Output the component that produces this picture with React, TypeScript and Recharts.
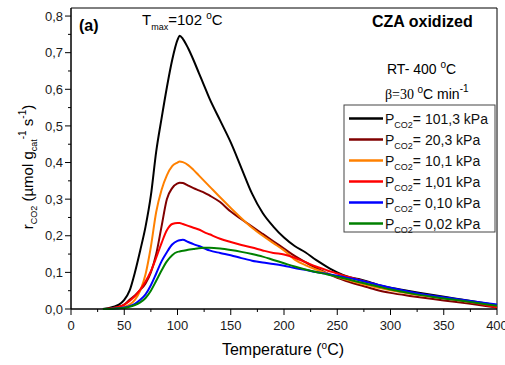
import React from 'react';
import { LineChart, Line, XAxis, YAxis, ReferenceArea } from 'recharts';

const TEMPS = [30, 35, 40, 45, 50, 55, 60, 65, 70, 75, 80, 85, 90, 95, 100, 102, 105, 110, 115, 120, 125, 130, 140, 150, 160, 170, 180, 190, 200, 210, 220, 230, 240, 250, 260, 270, 280, 290, 300, 320, 340, 360, 380, 400];

const P_101_3 = [0, 0.002, 0.006, 0.012, 0.025, 0.05, 0.1, 0.16, 0.225, 0.31, 0.43, 0.52, 0.605, 0.68, 0.735, 0.746, 0.738, 0.712, 0.68, 0.645, 0.61, 0.575, 0.515, 0.455, 0.385, 0.315, 0.262, 0.225, 0.195, 0.172, 0.155, 0.134, 0.116, 0.1, 0.088, 0.082, 0.074, 0.064, 0.058, 0.048, 0.038, 0.029, 0.02, 0.01];
const P_20_3 = [0, 0.001, 0.003, 0.006, 0.012, 0.025, 0.037, 0.052, 0.07, 0.1, 0.15, 0.225, 0.3, 0.33, 0.343, 0.345, 0.344, 0.337, 0.33, 0.324, 0.318, 0.31, 0.292, 0.266, 0.245, 0.225, 0.205, 0.185, 0.165, 0.145, 0.128, 0.112, 0.098, 0.085, 0.075, 0.066, 0.058, 0.05, 0.044, 0.035, 0.027, 0.02, 0.012, 0.004];
const P_10_1 = [0, 0, 0.001, 0.003, 0.006, 0.012, 0.025, 0.05, 0.095, 0.17, 0.265, 0.325, 0.365, 0.39, 0.4, 0.403, 0.401, 0.393, 0.38, 0.365, 0.35, 0.335, 0.305, 0.276, 0.248, 0.222, 0.2, 0.18, 0.16, 0.135, 0.12, 0.108, 0.098, 0.088, 0.079, 0.071, 0.064, 0.057, 0.051, 0.041, 0.033, 0.025, 0.017, 0.009];
const P_1_01 = [0, 0.001, 0.003, 0.006, 0.012, 0.022, 0.035, 0.053, 0.075, 0.103, 0.14, 0.18, 0.215, 0.232, 0.235, 0.235, 0.232, 0.227, 0.222, 0.217, 0.21, 0.204, 0.192, 0.183, 0.175, 0.168, 0.16, 0.153, 0.149, 0.14, 0.128, 0.116, 0.106, 0.097, 0.088, 0.08, 0.072, 0.064, 0.056, 0.044, 0.035, 0.026, 0.016, 0.004];
const P_0_10 = [0, 0, 0.001, 0.002, 0.004, 0.008, 0.014, 0.025, 0.04, 0.065, 0.097, 0.13, 0.155, 0.176, 0.186, 0.188, 0.189, 0.183, 0.177, 0.172, 0.166, 0.16, 0.153, 0.147, 0.139, 0.132, 0.127, 0.123, 0.118, 0.112, 0.107, 0.101, 0.096, 0.091, 0.085, 0.079, 0.072, 0.065, 0.058, 0.046, 0.036, 0.028, 0.02, 0.012];
const P_0_02 = [0, 0, 0.001, 0.002, 0.003, 0.006, 0.011, 0.018, 0.03, 0.05, 0.077, 0.105, 0.13, 0.147, 0.156, 0.157, 0.159, 0.162, 0.164, 0.166, 0.167, 0.167, 0.165, 0.161, 0.156, 0.15, 0.143, 0.134, 0.125, 0.116, 0.108, 0.101, 0.095, 0.088, 0.081, 0.074, 0.067, 0.06, 0.053, 0.042, 0.033, 0.025, 0.017, 0.009];

const X_TICKS = [0, 25, 50, 75, 100, 125, 150, 175, 200, 225, 250, 275, 300, 325, 350, 375, 400];
const Y_TICKS = [0, 0.05, 0.1, 0.15, 0.2, 0.25, 0.3, 0.35, 0.4, 0.45, 0.5, 0.55, 0.6, 0.65, 0.7, 0.75, 0.8];

const SERIES = [
  { key: 'p1013', label: '101,3', color: '#000000', values: P_101_3 },
  { key: 'p203', label: '20,3', color: '#800000', values: P_20_3 },
  { key: 'p101', label: '10,1', color: '#ff8000', values: P_10_1 },
  { key: 'p101b', label: '1,01', color: '#ff0000', values: P_1_01 },
  { key: 'p010', label: '0,10', color: '#0000ff', values: P_0_10 },
  { key: 'p002', label: '0,02', color: '#008000', values: P_0_02 },
];

const data = TEMPS.map((t, i) => {
  const row: Record<string, number> = { t };
  SERIES.forEach((s) => (row[s.key] = s.values[i]));
  return row;
});

const FONT = '"Liberation Sans", Arial, sans-serif';

function YTick(props: any) {
  const { x, y, payload } = props;
  const v = payload.value;
  const major = Math.abs(v * 10 - Math.round(v * 10)) < 1e-6;
  const ax = x + 8;
  return (
    <g>
      <line x1={ax} x2={ax - (major ? 6 : 3)} y1={y} y2={y} stroke="#000" />
      {major && (
        <text x={x} y={y} dy="0.36em" textAnchor="end" fontSize={13} fontFamily={FONT} fill="#1a1a1a">
          {v.toFixed(1).replace('.', ',')}
        </text>
      )}
    </g>
  );
}

function XTick(props: any) {
  const { x, y, payload } = props;
  const v = payload.value;
  const major = v % 50 === 0;
  const ay = y - 12;
  return (
    <g>
      <line x1={x} x2={x} y1={ay} y2={ay + (major ? 6 : 3)} stroke="#000" />
      {major && (
        <text x={x} y={y + 9} textAnchor="middle" fontSize={13} fontFamily={FONT} fill="#1a1a1a">
          {v}
        </text>
      )}
    </g>
  );
}

function Overlay() {
  return (
    <svg width={505} height={365} style={{ position: 'absolute', left: 0, top: 0, pointerEvents: 'none' }} fontFamily={FONT}>
      <text x={79} y={31} fontSize={16} fontWeight="bold">(a)</text>
      <text x={142} y={25} fontSize={15}>
        T<tspan fontSize={9} dy={5}>max</tspan>
        <tspan dy={-5}>=102 </tspan>
        <tspan fontSize={10} dy={-6}>o</tspan>
        <tspan dy={6}>C</tspan>
      </text>
      <text x={372} y={27} fontSize={16} fontWeight="bold">CZA oxidized</text>
      <text x={387} y={74} fontSize={14}>
        RT- 400 <tspan fontSize={10} dy={-6}>o</tspan>
        <tspan dy={6}>C</tspan>
      </text>
      <text x={385} y={99} fontSize={14}>
        <tspan fontFamily='"Liberation Serif", serif'>β=30 </tspan>
        <tspan fontSize={10} dy={-6}>o</tspan>
        <tspan dy={6}>C min</tspan>
        <tspan fontSize={10} dy={-7}>-1</tspan>
      </text>

      <rect x={344} y={105} width={151} height={127} fill="#fff" stroke="#444" />
      {SERIES.map((s, i) => {
        const cy = 118.5 + i * 21;
        return (
          <g key={s.key}>
            <line x1={349} x2={383} y1={cy} y2={cy} stroke={s.color} strokeWidth={2.5} />
            <text x={385} y={cy + 5} fontSize={14} fill="#111">
              P<tspan fontSize={9} dy={4}>CO2</tspan>
              <tspan dy={-4}>= {s.label} kPa</tspan>
            </text>
          </g>
        );
      })}

      <text x={283} y={355} fontSize={16} textAnchor="middle">
        Temperature (<tspan fontSize={10} dy={-6}>o</tspan>
        <tspan dy={6}>C)</tspan>
      </text>

      <text x={33} y={167} fontSize={15} textAnchor="middle" transform="rotate(-90 33 167)">
        r<tspan fontSize={9} dy={4}>CO2</tspan>
        <tspan dy={-4}> (µmol g</tspan>
        <tspan fontSize={9} dy={4}>cat</tspan>
        <tspan fontSize={10} dy={-11}>-1</tspan>
        <tspan dy={7}> s</tspan>
        <tspan fontSize={10} dy={-7}>-1</tspan>
        <tspan dy={7}>)</tspan>
      </text>
    </svg>
  );
}

export default function App() {
  return (
    <div style={{ position: 'absolute', left: 0, top: 0, width: 505, height: 365, background: '#fff' }}>
      <LineChart width={505} height={365} data={data} margin={{ top: 8, right: 8, bottom: 26, left: 0 }}>
        <ReferenceArea x1={0} x2={400} y1={0} y2={0.822} fill="none" stroke="#000" strokeOpacity={1} fillOpacity={0} />
        <XAxis
          dataKey="t"
          type="number"
          domain={[0, 400]}
          ticks={X_TICKS}
          interval={0}
          height={30}
          tickSize={6}
          tickMargin={6}
          tickLine={false}
          tick={<XTick />}
          axisLine={{ stroke: '#000' }}
        />
        <YAxis
          type="number"
          domain={[0, 0.822]}
          ticks={Y_TICKS}
          interval={0}
          width={71}
          tickSize={6}
          tickMargin={2}
          tickLine={false}
          tick={<YTick />}
          axisLine={{ stroke: '#000' }}
        />
        {SERIES.map((s) => (
          <Line
            key={s.key}
            dataKey={s.key}
            type="monotone"
            stroke={s.color}
            strokeWidth={2}
            dot={false}
            isAnimationActive={false}
          />
        ))}
      </LineChart>
      <Overlay />
    </div>
  );
}
